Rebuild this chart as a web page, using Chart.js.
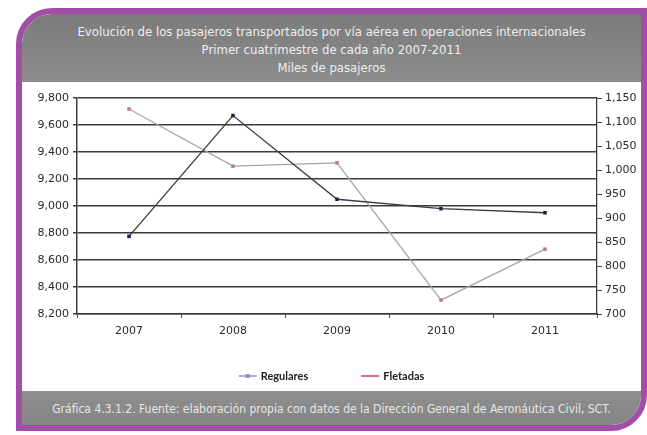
<!DOCTYPE html>
<html lang="es">
<head>
<meta charset="utf-8">
<script src="https://cdn.jsdelivr.net/npm/chart.js@4/dist/chart.umd.min.js"></script>
<style>
  html, body { margin: 0; padding: 0; background: #ffffff; }
  body { width: 647px; height: 435px; position: relative; overflow: hidden; }
  #frame {
    position: absolute; left: 16px; top: 8px; width: 631px; height: 423px;
    box-sizing: border-box; border: 6px solid #a24ea9;
    border-radius: 36px 0 36px 0; overflow: hidden; background: #ffffff;
  }
  #head {
    position: absolute; left: 0; top: 0; right: 0; height: 68px;
    background: linear-gradient(#7b7b7b, #8d8d8d);
  }
  #foot {
    position: absolute; left: 0; bottom: 0; right: 0; height: 34px;
    background: linear-gradient(#8e8e8e, #858585);
  }
  .line {
    position: absolute; left: 0; right: 0; text-align: center; white-space: nowrap;
    font-family: "Liberation Sans Narrow", "DejaVu Sans Condensed", sans-serif;
    font-size: 13px; color: #eeeeee; line-height: 16px;
  }
  #foot .line { font-size: 12px; color: #e6e6e6; }
  #chartBox { position: absolute; left: 22px; top: 82px; width: 619px; height: 309px; }
</style>
</head>
<body>
<div id="frame">
  <div id="head">
    <div class="line" style="top:10px">Evolución de los pasajeros transportados por vía aérea en operaciones internacionales</div>
    <div class="line" style="top:28px">Primer cuatrimestre de cada año 2007-2011</div>
    <div class="line" style="top:46px">Miles de pasajeros</div>
  </div>
  <div id="foot">
    <div class="line" style="top:10px">Gráfica 4.3.1.2. Fuente: elaboración propia con datos de la Dirección General de Aeronáutica Civil, SCT.</div>
  </div>
</div>
<div id="chartBox"><canvas id="chart" width="619" height="309"></canvas></div>
<script>
// Categories and series (miles de pasajeros)
const years = ['2007', '2008', '2009', '2010', '2011'];
const regulares = [8775, 9670, 9050, 8980, 8950];
const fletadas = [1127, 1008, 1015, 729, 835];

// Axis ranges
const regularesAxis = { min: 8200, max: 9800, step: 200 };
const fletadasAxis = { min: 700, max: 1150, step: 50 };

const seriesNames = ['Regulares', 'Fletadas'];

const fmt = v => Number(v).toLocaleString('en-US');
const tickFont = { family: 'DejaVu Sans', size: 11 };

// Legend drawn under the x axis: short line sample followed by the series name
const keyColors = ['#8f8fcc', '#e0307c'];
const seriesKey = {
  id: 'seriesKey',
  afterDraw(chart) {
    const ctx = chart.ctx;
    const y = 294;
    const sample = 18, gapText = 4, gapItems = 53;
    ctx.save();
    ctx.font = 'bold 11px Lato, "Noto Sans", sans-serif';
    ctx.textBaseline = 'middle';
    const names = chart.data.datasets.map(d => d.label);
    const widths = names.map(n => sample + gapText + ctx.measureText(n).width);
    const total = widths.reduce((a, b) => a + b, 0) + gapItems * (names.length - 1);
    let x = (chart.width - total) / 2;
    names.forEach((n, i) => {
      ctx.strokeStyle = keyColors[i];
      ctx.lineWidth = 1.5;
      ctx.beginPath(); ctx.moveTo(x, y); ctx.lineTo(x + sample, y); ctx.stroke();
      if (i === 0) {
        ctx.fillStyle = keyColors[i];
        ctx.fillRect(x + sample / 2 - 2, y - 2, 4, 4);
      }
      ctx.fillStyle = '#222222';
      ctx.fillText(n, x + sample + gapText, y);
      x += widths[i] + gapItems;
    });
    ctx.restore();
  }
};

new Chart(document.getElementById('chart'), {
  type: 'line',
  data: {
    labels: years,
    datasets: [
      {
        label: seriesNames[0], data: regulares, yAxisID: 'yReg',
        borderColor: '#3a3a44', borderWidth: 1.3,
        pointStyle: 'rect', pointRadius: 2.5,
        pointBackgroundColor: '#1e1e4e', pointBorderColor: '#1e1e4e', pointBorderWidth: 0,
        tension: 0, order: 1
      },
      {
        label: seriesNames[1], data: fletadas, yAxisID: 'yFle',
        borderColor: '#aaa2a6', borderWidth: 1.3,
        pointStyle: 'rect', pointRadius: 2.5,
        pointBackgroundColor: '#b47a96', pointBorderColor: '#b47a96', pointBorderWidth: 0,
        tension: 0, order: 2
      }
    ]
  },
  options: {
    responsive: false,
    animation: false,
    layout: { padding: { top: 16, left: 0, right: 0, bottom: 0 } },
    plugins: { legend: { display: false }, tooltip: { enabled: false } },
    scales: {
      x: {
        offset: true,
        grid: { display: true, drawOnChartArea: false, offset: true, color: '#555', tickLength: 4, lineWidth: 1 },
        border: { display: true, color: '#3c3c3c', width: 1.5 },
        ticks: { color: '#2a2a2a', font: tickFont, padding: 7, maxRotation: 0 },
        afterFit(s) { s.height = 77; }
      },
      yReg: {
        position: 'left',
        min: regularesAxis.min, max: regularesAxis.max,
        grid: { color: '#3c3c3c', lineWidth: 1.5, tickLength: 4 },
        border: { display: true, color: '#3c3c3c', width: 1.5 },
        ticks: { stepSize: regularesAxis.step, color: '#2a2a2a', font: tickFont, padding: 4, callback: fmt },
        afterFit(s) { s.width = 55; }
      },
      yFle: {
        position: 'right',
        min: fletadasAxis.min, max: fletadasAxis.max,
        grid: { drawOnChartArea: false, color: '#3c3c3c', lineWidth: 1, tickLength: 5 },
        border: { display: true, color: '#3c3c3c', width: 1.3 },
        ticks: { stepSize: fletadasAxis.step, color: '#2a2a2a', font: tickFont, padding: 3, callback: fmt },
        afterFit(s) { s.width = 44; }
      }
    }
  },
  plugins: [seriesKey]
});
</script>
</body>
</html>
